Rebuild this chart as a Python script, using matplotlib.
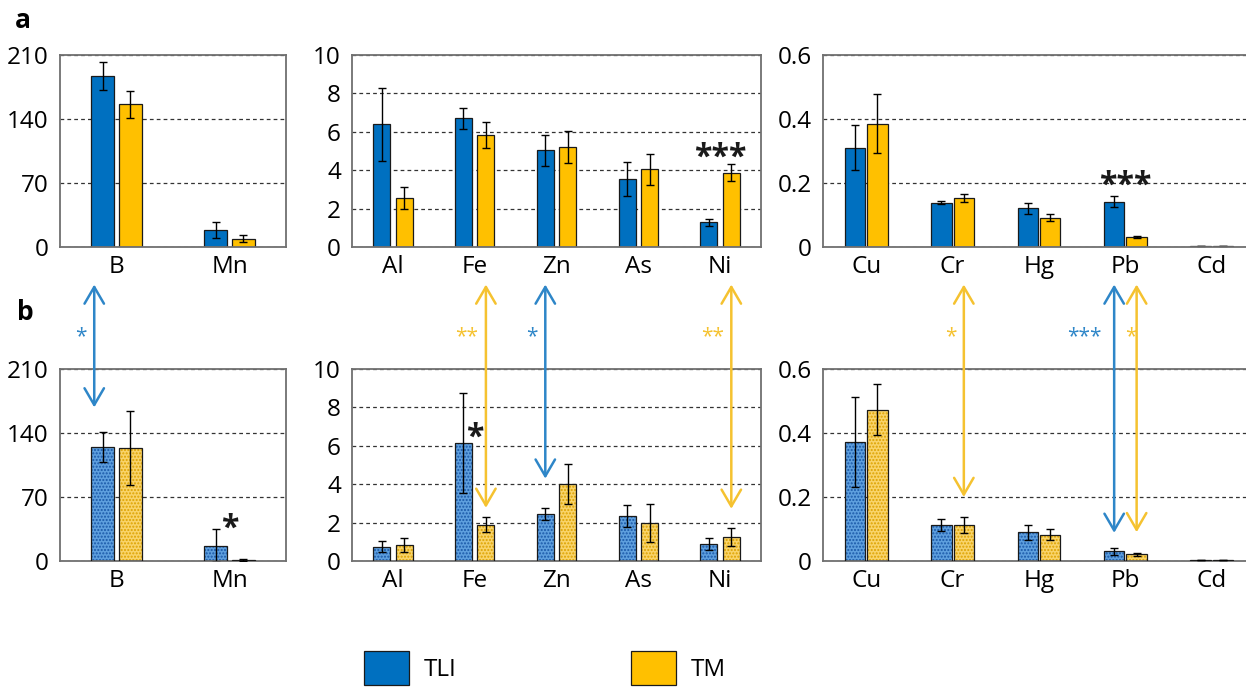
import numpy as np
import matplotlib.pyplot as plt

plt.rcParams['font.family'] = ['Open Sans', 'DejaVu Sans']

# elements per panel
el_1 = ['B', 'Mn']
el_2 = ['Al', 'Fe', 'Zn', 'As', 'Ni']
el_3 = ['Cu', 'Cr', 'Hg', 'Pb', 'Cd']

# row a
a_tli_1 = [187, 18.3]
a_tli_1_err = [15.5, 9.0]
a_tm_1 = [156, 9.1]
a_tm_1_err = [14.6, 3.6]
a_tli_2 = [6.4, 6.7, 5.03, 3.53, 1.28]
a_tli_2_err = [1.9, 0.56, 0.79, 0.88, 0.2]
a_tm_2 = [2.54, 5.84, 5.21, 4.04, 3.88]
a_tm_2_err = [0.57, 0.66, 0.83, 0.8, 0.43]
a_tli_3 = [0.31, 0.139, 0.121, 0.142, 0.004]
a_tli_3_err = [0.07, 0.006, 0.018, 0.016, 0.0]
a_tm_3 = [0.385, 0.154, 0.091, 0.030, 0.004]
a_tm_3_err = [0.092, 0.013, 0.011, 0.003, 0.0]

# row b
b_tli_1 = [125, 16.8]
b_tli_1_err = [16.6, 18.0]
b_tm_1 = [123.4, 1.1]
b_tm_1_err = [40.5, 0.6]
b_tli_2 = [0.75, 6.16, 2.44, 2.36, 0.87]
b_tli_2_err = [0.3, 2.6, 0.3, 0.57, 0.31]
b_tm_2 = [0.82, 1.88, 4.01, 1.97, 1.26]
b_tm_2_err = [0.36, 0.39, 1.03, 1.0, 0.47]
b_tli_3 = [0.372, 0.113, 0.09, 0.03, 0.002]
b_tli_3_err = [0.141, 0.018, 0.023, 0.01, 0.0]
b_tm_3 = [0.473, 0.113, 0.082, 0.021, 0.002]
b_tm_3_err = [0.079, 0.026, 0.017, 0.004, 0.0]

yticks_1 = [0, 70, 140, 210]
yticks_2 = [0, 2, 4, 6, 8, 10]
yticks_3 = [0, 0.2, 0.4, 0.6]
ylabels_3 = ['0', '0.2', '0.4', '0.6']

# significance TLI vs TM within a row: (panel, element, label)
stars_a = [(1, 'Ni', '***'), (2, 'Pb', '***')]
stars_b = [(0, 'Mn', '*'), (1, 'Fe', '*')]
star_y_a = [4.6, 0.19]
star_y_b = [35, 6.4]

# significance a vs b: (panel, element, series, label, tip y)
arrows = [(0, 'B', 'TLI', '*', 168),
          (1, 'Fe', 'TM', '**', 2.77),
          (1, 'Zn', 'TLI', '*', 4.29),
          (1, 'Ni', 'TM', '**', 2.72),
          (2, 'Cr', 'TM', '*', 0.20),
          (2, 'Pb', 'TLI', '***', 0.088),
          (2, 'Pb', 'TM', '*', 0.09)]

blue = '#0070C0'
yellow = '#FFC000'
arrow_blue = '#2E86C8'
arrow_yellow = '#F5C230'

W, H = 1246, 689
fig = plt.figure(figsize=(W / 100, H / 100), dpi=100)

lefts = [60, 352, 823]
widths = [226, 409, 432]
bottoms = [247, 561]
elements = [el_1, el_2, el_3]
yticks = [yticks_1, yticks_2, yticks_3]
ylabels = [['0', '70', '140', '210'], ['0', '2', '4', '6', '8', '10'], ylabels_3]
bw = [0.2, 0.21, 0.235]
offs = [0.122, 0.137, 0.13]

rows = {
    'a': [(a_tli_1, a_tli_1_err, a_tm_1, a_tm_1_err),
          (a_tli_2, a_tli_2_err, a_tm_2, a_tm_2_err),
          (a_tli_3, a_tli_3_err, a_tm_3, a_tm_3_err)],
    'b': [(b_tli_1, b_tli_1_err, b_tm_1, b_tm_1_err),
          (b_tli_2, b_tli_2_err, b_tm_2, b_tm_2_err),
          (b_tli_3, b_tli_3_err, b_tm_3, b_tm_3_err)],
}

axes = {}
for r, row in enumerate(['a', 'b']):
    for p in range(3):
        ax = fig.add_axes([lefts[p] / W, 1 - bottoms[r] / H, widths[p] / W, 192 / H])
        axes[(row, p)] = ax
        tli, tli_err, tm, tm_err = rows[row][p]
        x = np.arange(len(elements[p]))
        eb = dict(elinewidth=1, capsize=3, ecolor='black', capthick=1)
        if row == 'a':
            ax.bar(x - offs[p], tli, bw[p], color=blue, edgecolor='#1a1a1a', lw=0.9,
                   yerr=tli_err, error_kw=eb, zorder=2, label='TLI')
            ax.bar(x + offs[p], tm, bw[p], color=yellow, edgecolor='#1a1a1a', lw=0.9,
                   yerr=tm_err, error_kw=eb, zorder=2, label='TM')
        else:
            ax.bar(x - offs[p], tli, bw[p], color='#5E9FDE', edgecolor='#1A58A8', lw=0,
                   hatch='.....', zorder=2)
            ax.bar(x - offs[p], tli, bw[p], fill=False, edgecolor='#1a1a1a', lw=0.9,
                   yerr=tli_err, error_kw=eb, zorder=3)
            ax.bar(x + offs[p], tm, bw[p], color='#F9D46A', edgecolor='#DDA200', lw=0,
                   hatch='.....', zorder=2)
            ax.bar(x + offs[p], tm, bw[p], fill=False, edgecolor='#1a1a1a', lw=0.9,
                   yerr=tm_err, error_kw=eb, zorder=3)
        ax.set_xlim(-0.5, len(elements[p]) - 0.5)
        ax.set_ylim(yticks[p][0], yticks[p][-1])
        ax.set_xticks(x)
        ax.set_xticklabels(elements[p], fontsize=17.5)
        ax.set_yticks(yticks[p])
        ax.set_yticklabels(ylabels[p], fontsize=17.5)
        ax.tick_params(length=0, pad=8)
        ax.tick_params(axis='x', pad=6)
        ax.yaxis.grid(True, linestyle=(0, (3, 2.5)), color='#333333', lw=0.9)
        ax.set_axisbelow(True)
        for s in ax.spines.values():
            s.set_color('#707070')
            s.set_linewidth(1.3)

# stars inside panels
for (p, el, lab), yv in zip(stars_a, star_y_a):
    ax = axes[('a', p)]
    ax.text(elements[p].index(el), yv, lab, ha='center', va='center', fontsize=23,
            fontweight='bold', color='#1a1a1a')
for (p, el, lab), yv in zip(stars_b, star_y_b):
    ax = axes[('b', p)]
    ax.text(elements[p].index(el), yv, lab, ha='center', va='center', fontsize=23,
            fontweight='bold', color='#1a1a1a')

# arrows between row a and row b
for p, el, ser, lab, tip in arrows:
    ax = axes[('b', p)]
    i = elements[p].index(el)
    if ser == 'TLI':
        xa = i - offs[p]
        col = arrow_blue
    else:
        xa = i + offs[p]
        col = arrow_yellow
    if el == 'B':
        xa -= 0.075
    ax.annotate('', xy=(xa, tip), xycoords='data',
                xytext=(xa, 1.44), textcoords=('data', 'axes fraction'),
                arrowprops=dict(arrowstyle='<->,head_length=0.6,head_width=0.35',
                                color=col, lw=1.8, shrinkA=0, shrinkB=0,
                                mutation_scale=20),
                annotation_clip=False)
    dx = {'*': 13, '**': 19, '***': 30}[lab]
    if el == 'Pb' and ser == 'TM':
        dx = 6
    ax.annotate(lab, xy=(xa, 1.17), xycoords=('data', 'axes fraction'),
                xytext=(-dx, 0), textcoords='offset pixels',
                ha='center', va='center', fontsize=15, color=col,
                annotation_clip=False)

fig.text(23 / W, 1 - 20 / H, 'a', fontsize=19, fontweight='bold', ha='center', va='center')
fig.text(25 / W, 1 - 312 / H, 'b', fontsize=19, fontweight='bold', ha='center', va='center')

handles, labels = axes[('a', 0)].get_legend_handles_labels()
fig.legend(handles, labels, loc='center', bbox_to_anchor=(545 / W, 1 - 668 / H),
           ncol=2, frameon=False, fontsize=17.5, handlelength=1.85, handleheight=1.75,
           handletextpad=0.6, columnspacing=7.2)

fig.savefig('out.png', dpi=100)
